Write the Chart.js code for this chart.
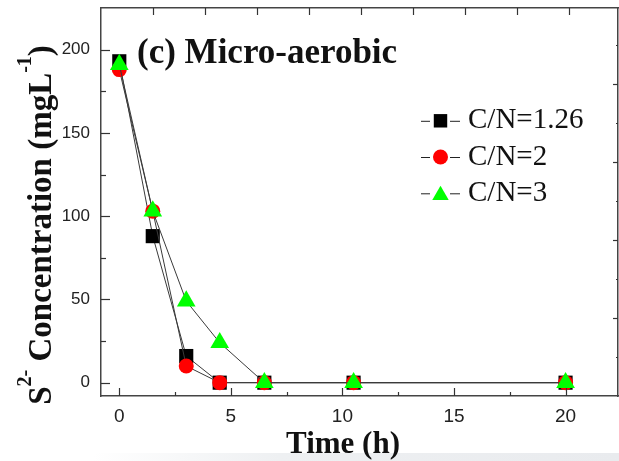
<!DOCTYPE html>
<html>
<head>
<meta charset="utf-8">
<script src="https://cdn.jsdelivr.net/npm/chart.js@4.4.1/dist/chart.umd.min.js"></script>
<style>
  html, body { margin: 0; padding: 0; background: #fff; }
  #wrap { position: relative; width: 619px; height: 461px; overflow: hidden; }
  #band {
    position: absolute; left: 0; top: 453px; width: 619px; height: 8px;
    background: linear-gradient(to right, #fff 15%, #eef0f2 45%, #e9ebee 100%);
  }
  canvas { position: absolute; left: 0; top: 0; }
</style>
</head>
<body>
<div id="wrap">
  <div id="band"></div>
  <canvas id="sulfide" width="619" height="461"></canvas>
</div>
<script>
// sulfide removal under micro-aerobic conditions
const hours = [0, 1.5, 3, 4.5, 6.5, 10.5, 20];
const cn126 = [193, 88, 16, 0, 0, 0, 0];
const cn2 = [188, 103, 10, 0, 0, 0, 0];
const cn3 = [191, 103, 49, 24, 0, 0, 0];
const seriesNames = ["C/N=1.26", "C/N=2", "C/N=3"];

const xTicks = [0, 5, 10, 15, 20];
const xMinor = [2.5, 7.5, 12.5, 17.5];
const yTicks = [0, 50, 100, 150, 200];
const yMinor = [25, 75, 125, 175];

const SERIF = '"Liberation Serif", "Times New Roman", serif';
const SANS = '"Liberation Sans", Arial, sans-serif';

const pts = (ys) => hours.map((h, i) => ({ x: h, y: ys[i] }));

const series = [
  { label: seriesNames[0], data: pts(cn126), pointStyle: "rect", pointRadius: 10,
    backgroundColor: "#000", order: 3 },
  { label: seriesNames[1], data: pts(cn2), pointStyle: "circle", pointRadius: 7.5,
    backgroundColor: "#ff0000", order: 2 },
  { label: seriesNames[2], data: pts(cn3), pointStyle: "triangle", pointRadius: 10.8,
    backgroundColor: "#00ff00", order: 1 },
].map((s) => ({
  ...s,
  pointBorderWidth: 0,
  pointBackgroundColor: s.backgroundColor,
  pointBorderColor: s.backgroundColor,
  borderColor: "#3a3a3a",
  borderWidth: 1,
  fill: false,
  tension: 0,
}));

// fixed box sizes, no label overflow padding
const sizeTo = (w, h) => (s) => {
  if (w !== null) s.width = w;
  if (h !== null) s.height = h;
  s.paddingTop = s.paddingBottom = s.paddingLeft = s.paddingRight = 0;
};

// inward ticks on all four sides of the frame
const frameTicks = {
  id: "frameTicks",
  afterDraw(chart) {
    const { ctx, chartArea: a, scales } = chart;
    ctx.save();
    ctx.strokeStyle = "#333";
    ctx.lineWidth = 1.2;
    const line = (x1, y1, x2, y2) => {
      ctx.beginPath();
      ctx.moveTo(x1, y1);
      ctx.lineTo(x2, y2);
      ctx.stroke();
    };
    xTicks.forEach((v) => {
      const px = Math.round(scales.x.getPixelForValue(v)) + 0.5;
      line(px, a.bottom, px, a.bottom - 8);
    });
    xMinor.forEach((v) => {
      const px = Math.round(scales.x.getPixelForValue(v)) + 0.5;
      line(px, a.bottom, px, a.bottom - 4);
    });
    yTicks.forEach((v) => {
      const py = Math.round(scales.y.getPixelForValue(v)) + 0.5;
      line(a.left, py, a.left + 9, py);
    });
    yMinor.forEach((v) => {
      const py = Math.round(scales.y.getPixelForValue(v)) + 0.5;
      line(a.left, py, a.left + 5, py);
    });
    for (let v = 1; v <= 9; v++) {
      const px = Math.round(scales.xTop.getPixelForValue(v)) + 0.5;
      line(px, a.top, px, a.top + 7);
    }
    for (let v = 2; v <= 18; v += 2) {
      const py = Math.round(scales.yRight.getPixelForValue(v)) + 0.5;
      line(a.right, py, a.right - (v % 4 === 0 ? 5 : 2), py);
    }
    ctx.restore();
  },
};

// panel title, axis titles and legend
const annotations = {
  id: "annotations",
  afterDraw(chart) {
    const ctx = chart.ctx;
    ctx.save();
    ctx.fillStyle = "#111";
    ctx.textBaseline = "alphabetic";
    ctx.textAlign = "left";

    ctx.font = "bold 35px " + SERIF;
    ctx.fillText("(c) Micro-aerobic", 137, 63);

    ctx.textAlign = "center";
    ctx.font = "bold 31px " + SERIF;
    ctx.fillText("Time (h)", 343, 453);
    ctx.textAlign = "left";

    // y-axis title, rotated, with superscripts
    const parts = [
      { t: "S", size: 33, rise: 0 },
      { t: "2-", size: 20, rise: 20 },
      { t: " Concentration (mgL", size: 33, rise: 0 },
      { t: "-1", size: 20, rise: 20 },
      { t: ")", size: 33, rise: 0 },
    ];
    let total = 0;
    parts.forEach((p) => {
      ctx.font = "bold " + p.size + "px " + SERIF;
      p.w = ctx.measureText(p.t).width;
      total += p.w;
    });
    ctx.translate(51, 225);
    ctx.rotate(-Math.PI / 2);
    let cx = -total / 2;
    parts.forEach((p) => {
      ctx.font = "bold " + p.size + "px " + SERIF;
      ctx.fillText(p.t, cx, -p.rise);
      cx += p.w;
    });
    ctx.setTransform(1, 0, 0, 1, 0, 0);

    // legend: dash, marker, dash, label
    const rowY = [120.8, 157, 193.3];
    chart.data.datasets.forEach((ds, i) => {
      const y = rowY[i];
      ctx.strokeStyle = "#222";
      ctx.lineWidth = 1;
      ctx.beginPath();
      ctx.moveTo(421, y + 0.5);
      ctx.lineTo(430, y + 0.5);
      ctx.moveTo(450, y + 0.5);
      ctx.lineTo(460, y + 0.5);
      ctx.stroke();
      ctx.fillStyle = ds.pointBackgroundColor;
      ctx.strokeStyle = ds.pointBackgroundColor;
      Chart.helpers.drawPoint(ctx, {
        pointStyle: ds.pointStyle,
        radius: ds.pointStyle === "circle" ? 7.5 : 9.5,
        rotation: 0,
        borderWidth: 0,
      }, 440.5, y + (ds.pointStyle === "triangle" ? 2 : 0));
      ctx.fillStyle = "#111";
      ctx.font = "29px " + SERIF;
      ctx.fillText(ds.label, 468, y + 7.5);
    });
    ctx.restore();
  },
};

new Chart(document.getElementById("sulfide"), {
  type: "line",
  data: { datasets: series },
  options: {
    responsive: false,
    animation: false,
    layout: { padding: 0, autoPadding: false },
    plugins: { legend: { display: false }, tooltip: { enabled: false } },
    scales: {
      x: {
        type: "linear",
        position: "bottom",
        min: -0.82,
        max: 22.35,
        afterBuildTicks: (s) => { s.ticks = xTicks.map((v) => ({ value: v })); },
        afterFit: sizeTo(null, 65),
        grid: { display: false, drawTicks: false },
        border: { display: true, color: "#444", width: 1.5 },
        ticks: { font: { family: SANS, size: 19 }, color: "#222", padding: 9 },
      },
      y: {
        type: "linear",
        position: "left",
        min: -8,
        max: 225,
        afterBuildTicks: (s) => { s.ticks = yTicks.map((v) => ({ value: v })); },
        afterFit: sizeTo(101, null),
        grid: { display: false, drawTicks: false },
        border: { display: true, color: "#444", width: 1.5 },
        ticks: { font: { family: SANS, size: 17 }, color: "#222", padding: 11 },
      },
      xTop: {
        type: "linear",
        position: "top",
        min: 0,
        max: 9.94,
        afterFit: sizeTo(null, 8),
        grid: { display: false, drawTicks: false },
        border: { display: true, color: "#444", width: 1.5 },
        ticks: { display: false },
      },
      yRight: {
        type: "linear",
        position: "right",
        min: 0,
        max: 19.9,
        afterFit: sizeTo(1, null),
        grid: { display: false, drawTicks: false },
        border: { display: true, color: "#444", width: 1.5 },
        ticks: { display: false },
      },
    },
  },
  plugins: [frameTicks, annotations],
});
</script>
</body>
</html>
